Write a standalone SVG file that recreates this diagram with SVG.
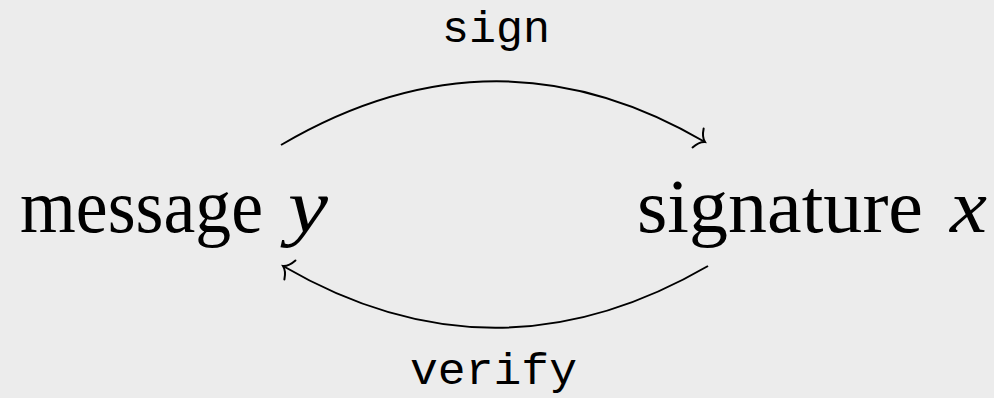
<svg xmlns="http://www.w3.org/2000/svg" width="994" height="398" viewBox="0 0 994 398">
<defs>
<style>
.node{font-family:"Liberation Serif","DejaVu Serif",serif;font-size:76px;fill:#000}
.it{font-style:italic}
.lbl{font-family:"Liberation Mono","DejaVu Sans Mono",monospace;font-size:44px;fill:#000}
.edge{fill:none;stroke:#000;stroke-width:2}
</style>
<marker id="to" markerUnits="userSpaceOnUse" markerWidth="30" markerHeight="30" viewBox="-15 -15 30 30" refX="0" refY="0" orient="auto" overflow="visible">
<path d="M -8 -11 C -6 -5 -3 -1.5 0 0 C -3 1.5 -6 5 -8 11" fill="none" stroke="#000" stroke-width="2" stroke-linecap="round"/>
</marker>
</defs>
<rect width="994" height="398" fill="#ececec"/>
<g id="connectors">
<path class="edge" d="M 281 145 Q 495 19 705 142" marker-end="url(#to)"/>
<path class="edge" d="M 708 266 Q 495 389.5 283 266" marker-end="url(#to)"/>
</g>
<g id="message">
<text class="node" x="20" y="232" textLength="243" lengthAdjust="spacingAndGlyphs">message</text>
<text class="node it" x="288" y="232" textLength="40" lengthAdjust="spacingAndGlyphs">y</text>
</g>
<g id="signature">
<text class="node" x="637" y="232" textLength="286" lengthAdjust="spacingAndGlyphs">signature</text>
<text class="node it" x="950" y="232" textLength="37" lengthAdjust="spacingAndGlyphs">x</text>
</g>
<g id="label-sign">
<text class="lbl" x="442" y="42" textLength="108" lengthAdjust="spacingAndGlyphs">sign</text>
</g>
<g id="label-verify">
<text class="lbl" x="410" y="384" textLength="167" lengthAdjust="spacingAndGlyphs">verify</text>
</g>
</svg>
